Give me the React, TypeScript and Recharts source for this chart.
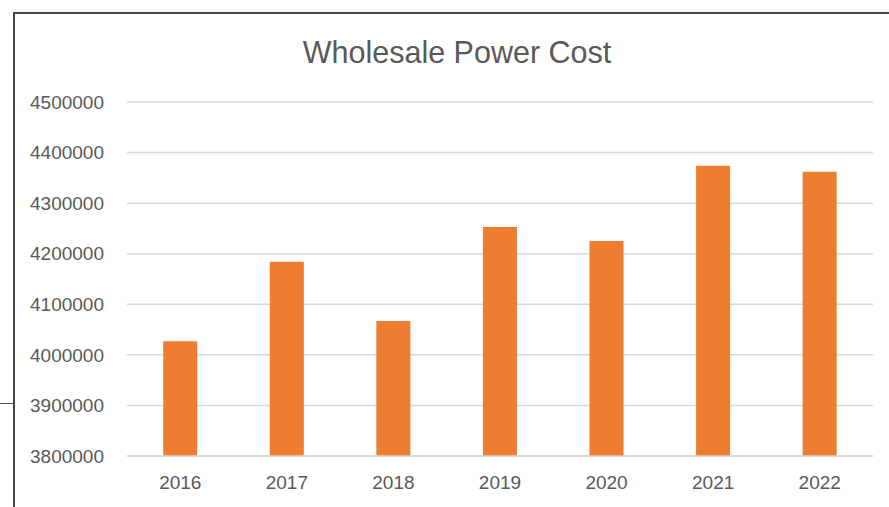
import React from "react";
import { BarChart, Bar, XAxis, YAxis, CartesianGrid } from "recharts";

const years = ["2016", "2017", "2018", "2019", "2020", "2021", "2022"];
const costs = [4027000, 4184000, 4067000, 4253000, 4225000, 4374000, 4362000];
const yTicks = [3800000, 3900000, 4000000, 4100000, 4200000, 4300000, 4400000, 4500000];
const title = "Wholesale Power Cost";

const data = years.map((y, i) => ({ year: y, cost: costs[i] }));

const FONT = "'Liberation Sans', Arial, sans-serif";
const TEXT = "#595959";

export default function App() {
  return (
    <div style={{ position: "absolute", left: 0, top: 0, width: 889, height: 507, background: "#fff", overflow: "hidden" }}>
      <div style={{ position: "absolute", left: 13, top: 12, width: 900, height: 520, borderLeft: "2px solid #444", borderTop: "2px solid #444" }} />
      <div style={{ position: "absolute", left: 0, top: 403, width: 14, height: 1, background: "#555" }} />
      <div style={{ position: "absolute", left: 0, top: 34, width: 914, textAlign: "center", fontFamily: FONT, fontSize: 30.5, color: TEXT, lineHeight: "36px" }}>
        {title}
      </div>
      <div style={{ position: "absolute", left: 0, top: 0 }}>
        <BarChart width={889} height={507} data={data} margin={{ top: 102, right: 16, bottom: 21, left: 0 }} barCategoryGap="34%">
          <CartesianGrid vertical={false} stroke="#d9d9d9" strokeWidth={1.5} />
          <XAxis
            dataKey="year"
            axisLine={{ stroke: "#d9d9d9", strokeWidth: 1.5 }}
            tickLine={false}
            tickMargin={14}
            tick={{ fill: TEXT, fontSize: 19, fontFamily: FONT }}
            height={30}
          />
          <YAxis
            domain={[3800000, 4500000]}
            ticks={yTicks}
            interval={0}
            axisLine={false}
            tickLine={false}
            tickMargin={17}
            width={127}
            tick={{ fill: TEXT, fontSize: 19, fontFamily: FONT }}
          />
          <Bar dataKey="cost" fill="#ED7D31" isAnimationActive={false} />
        </BarChart>
      </div>
    </div>
  );
}
